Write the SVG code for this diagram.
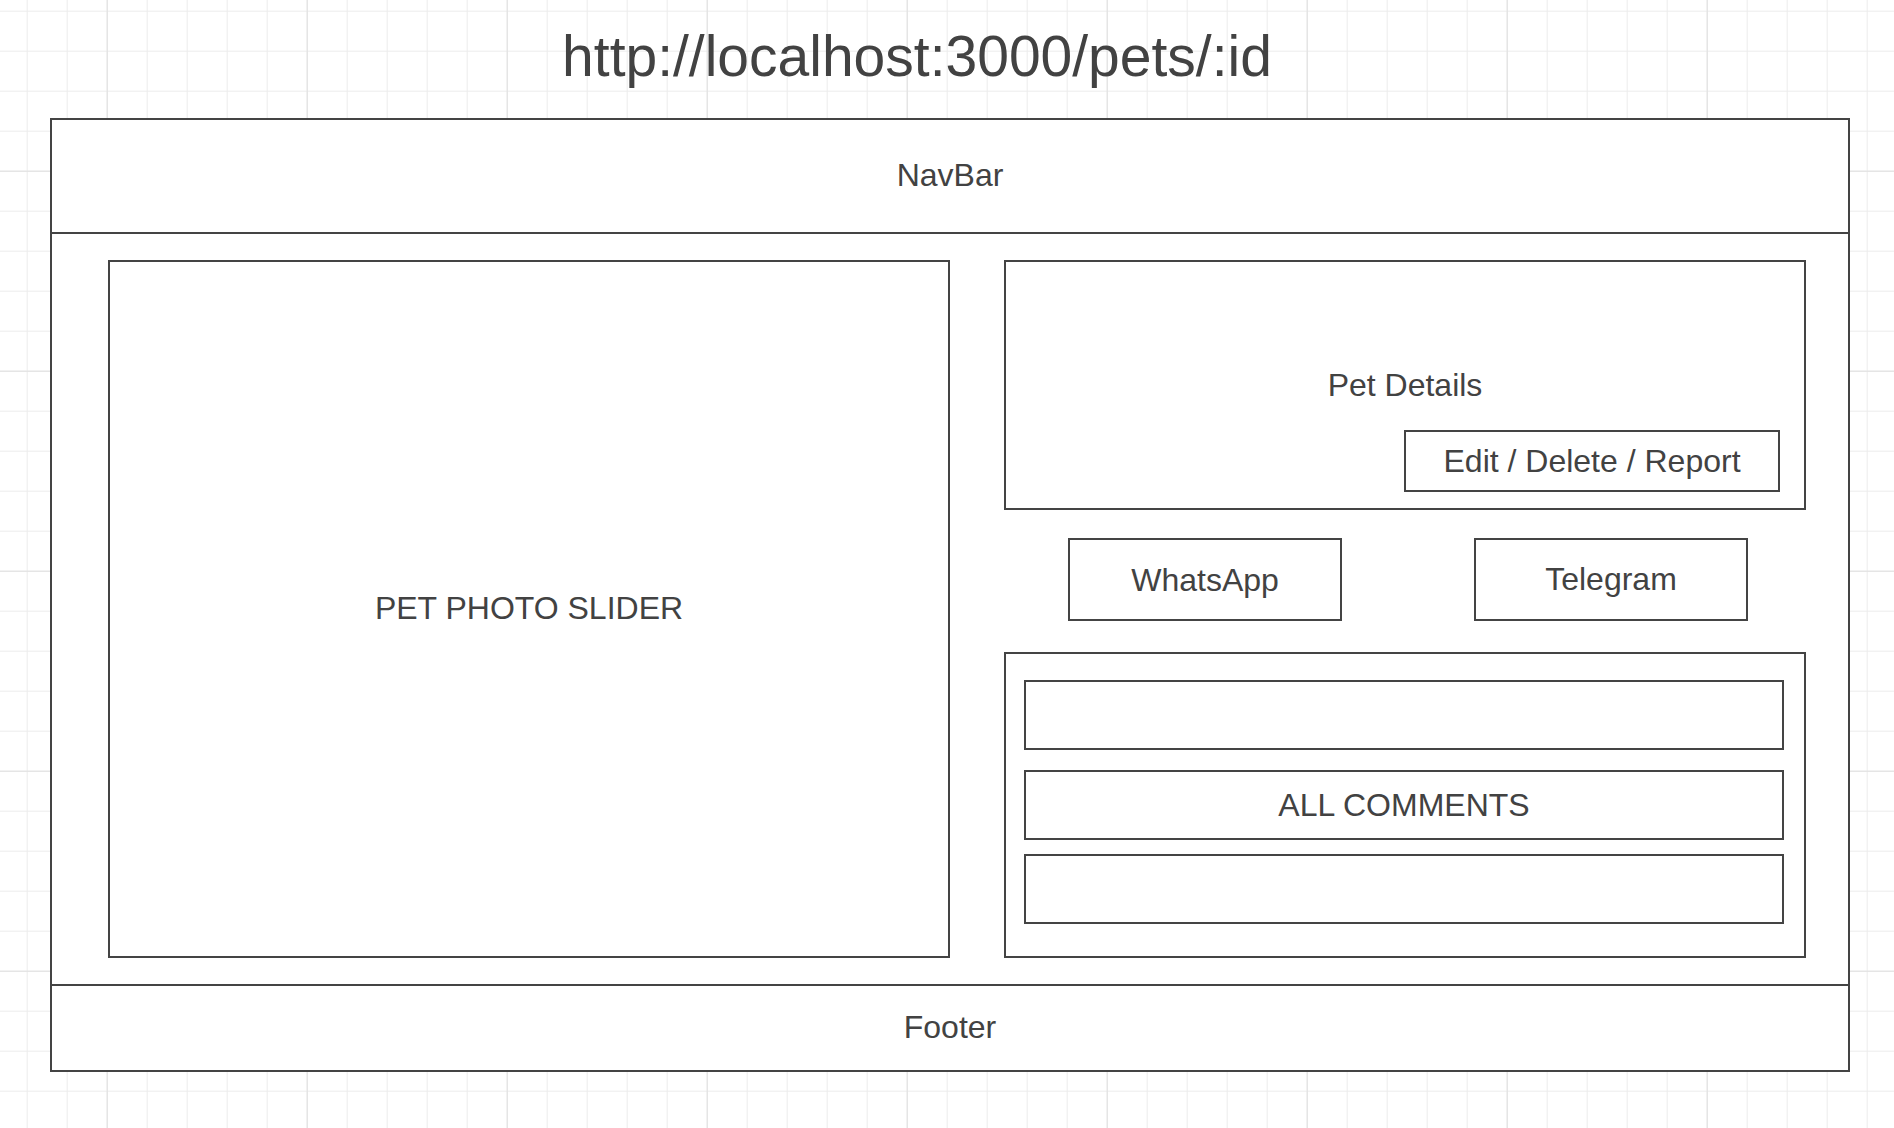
<svg xmlns="http://www.w3.org/2000/svg" width="1894" height="1128" viewBox="0 0 1894 1128">
  <defs>
    <pattern id="gridMinor" x="26.7" y="10.7" width="40" height="40" patternUnits="userSpaceOnUse">
      <path d="M0.5 0 V40 M0 0.5 H40" fill="none" stroke="#ececec" stroke-width="1"/>
    </pattern>
    <pattern id="gridMajor" x="106.7" y="170.7" width="200" height="200" patternUnits="userSpaceOnUse">
      <path d="M0.5 0 V200 M0 0.5 H200" fill="none" stroke="#e0e0e0" stroke-width="1"/>
    </pattern>
  </defs>
  <style>
    .box { fill: #ffffff; stroke: #444444; stroke-width: 2; }
    .line { stroke: #444444; stroke-width: 2; fill: none; }
    .lbl { font-family: "Liberation Sans", Arial, sans-serif; font-size: 32px; fill: #424242; text-anchor: middle; }
    .title { font-family: "Liberation Sans", Arial, sans-serif; font-size: 57px; fill: #424242; text-anchor: middle; }
  </style>
  <rect width="1894" height="1128" fill="#ffffff"/>
  <rect width="1894" height="1128" fill="url(#gridMinor)"/>
  <rect width="1894" height="1128" fill="url(#gridMajor)"/>

  <g id="title">
    <text class="title" x="917" y="76">http://localhost:3000/pets/:id</text>
  </g>

  <g id="page">
    <rect class="box" x="51" y="119" width="1798" height="952"/>
  </g>
  <g id="navbar">
    <line class="line" x1="51" y1="233" x2="1849" y2="233"/>
    <text class="lbl" x="950" y="186">NavBar</text>
  </g>
  <g id="footer">
    <line class="line" x1="51" y1="985" x2="1849" y2="985"/>
    <text class="lbl" x="950" y="1038">Footer</text>
  </g>
  <g id="photo-slider">
    <rect class="box" x="109" y="261" width="840" height="696"/>
    <text class="lbl" x="529" y="619">PET PHOTO SLIDER</text>
  </g>
  <g id="pet-details">
    <rect class="box" x="1005" y="261" width="800" height="248"/>
    <text class="lbl" x="1405" y="396">Pet Details</text>
  </g>
  <g id="edit-delete-report">
    <rect class="box" x="1405" y="431" width="374" height="60"/>
    <text class="lbl" x="1592" y="472">Edit / Delete / Report</text>
  </g>
  <g id="whatsapp">
    <rect class="box" x="1069" y="539" width="272" height="81"/>
    <text class="lbl" x="1205" y="591">WhatsApp</text>
  </g>
  <g id="telegram">
    <rect class="box" x="1475" y="539" width="272" height="81"/>
    <text class="lbl" x="1611" y="590">Telegram</text>
  </g>
  <g id="comments">
    <rect class="box" x="1005" y="653" width="800" height="304"/>
  </g>
  <g id="comment-1">
    <rect class="box" x="1025" y="681" width="758" height="68"/>
  </g>
  <g id="comment-2">
    <rect class="box" x="1025" y="771" width="758" height="68"/>
    <text class="lbl" x="1404" y="816">ALL COMMENTS</text>
  </g>
  <g id="comment-3">
    <rect class="box" x="1025" y="855" width="758" height="68"/>
  </g>
  <g id="connectors"></g>
</svg>
